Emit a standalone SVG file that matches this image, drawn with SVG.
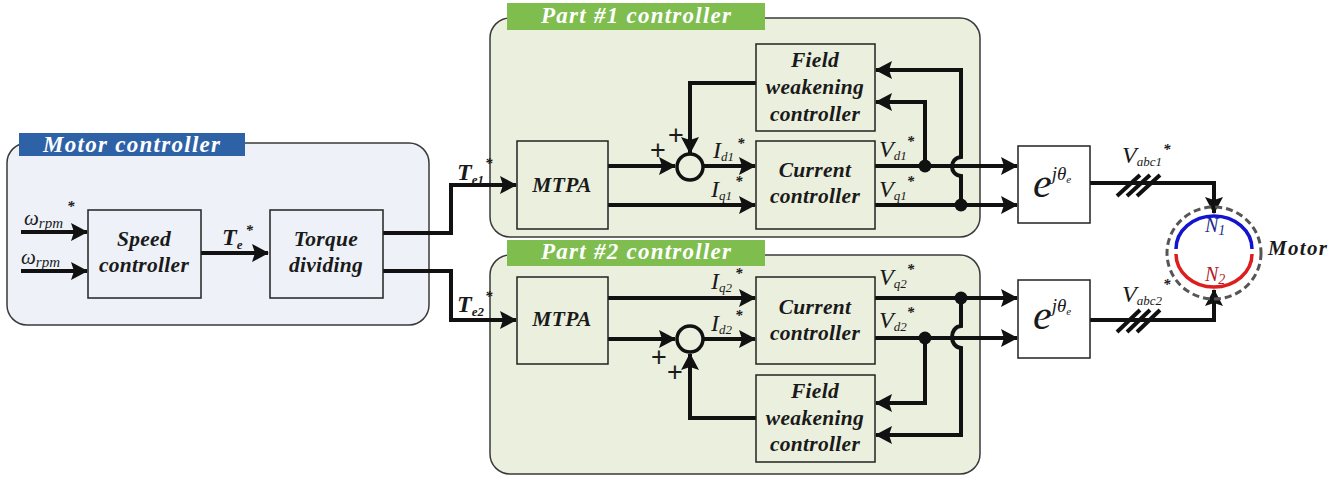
<svg xmlns="http://www.w3.org/2000/svg" width="1341" height="480" viewBox="0 0 1341 480">
<style>
text{font-family:"Liberation Serif","Times New Roman",serif;font-weight:bold;font-style:italic;fill:#1a1a1a}
.box{fill:none;stroke:#222;stroke-width:1.5}
.wbox{fill:#fff;stroke:#222;stroke-width:1.5}
.panelB{fill:#eef2f8;stroke:#3a3a3a;stroke-width:1.5}
.panelG{fill:#ebf0de;stroke:#3a3a3a;stroke-width:1.5}
.hdr{font-size:23px;fill:#fff}
.t{font-size:21.5px;text-anchor:middle;letter-spacing:.3px}
.v{font-size:24px}
.n{font-weight:normal}
.s{font-size:13px}
.st{font-size:15px;font-weight:bold}
.w{fill:none;stroke:#111;stroke-width:4}
.a{marker-end:url(#ah)}
.dot{fill:#111}
.sum{fill:none;stroke:#111;stroke-width:3.5}
.plus{font-size:27px;font-style:normal;font-weight:normal;font-family:"Liberation Sans",Arial,sans-serif}
</style>
<defs>
<marker id="ah" markerUnits="userSpaceOnUse" markerWidth="19" markerHeight="18" refX="16" refY="9" orient="auto">
<path d="M0,0 L17,9 L0,18 L3,9 Z" fill="#111"/>
</marker>
</defs>
<g id="motor-controller">
<rect class="panelB" x="7" y="143" width="422" height="182" rx="20"/>
<rect x="19" y="133" width="226" height="23" fill="#2e62a6"/>
<text class="hdr" x="43" y="152" textLength="177" lengthAdjust="spacing">Motor controller</text>
</g>
<g id="part1-panel">
<rect class="panelG" x="490" y="18" width="490" height="219" rx="20"/>
<rect x="507" y="3" width="258" height="27" fill="#7ebd4e"/>
<text class="hdr" x="541" y="23" textLength="190" lengthAdjust="spacing">Part #1 controller</text>
</g>
<g id="part2-panel">
<rect class="panelG" x="490" y="255" width="490" height="219" rx="20"/>
<rect x="507" y="240" width="258" height="26" fill="#7ebd4e"/>
<text class="hdr" x="541" y="259" textLength="190" lengthAdjust="spacing">Part #2 controller</text>
</g>
<g id="connectors">
<path class="w a" d="M21,232 H87"/>
<path class="w a" d="M21,271 H87"/>
<path class="w a" d="M201,253 H268"/>
<path class="w a" d="M383,233 H451 V185 H516"/>
<path class="w a" d="M383,271 H451 V320 H516"/>
<path class="w a" d="M608,166 H675"/>
<path class="w a" d="M703,166 H755"/>
<path class="w a" d="M608,205 H755"/>
<path class="w a" d="M756,83 H690 V153"/>
<path class="w a" d="M875,166 H1017"/>
<path class="w a" d="M875,205 H1017"/>
<path class="w a" d="M925,166 V102 H876"/>
<path class="w a" d="M961,205 V176 C949,175 949,158 961,157 V70 H876"/>
<path class="w a" d="M608,298 H755"/>
<path class="w a" d="M608,339 H675"/>
<path class="w a" d="M703,339 H755"/>
<path class="w a" d="M756,418 H690 V354"/>
<path class="w a" d="M875,298 H1017"/>
<path class="w a" d="M875,338 H1017"/>
<path class="w a" d="M925,338 V403 H876"/>
<path class="w a" d="M961,298 V326 C949,327 949,347 961,348 V435 H876"/>
<path class="w a" d="M1090,183 H1214 V213"/>
<path class="w a" d="M1090,320 H1214 V290"/>
<path class="w" d="M1117,196 L1140,175 M1127,196 L1150,175 M1137,196 L1160,175"/>
<path class="w" d="M1117,332 L1140,310 M1127,332 L1150,310 M1137,332 L1160,310"/>
<circle class="dot" cx="925" cy="166" r="6.5"/>
<circle class="dot" cx="961" cy="205" r="6.5"/>
<circle class="dot" cx="961" cy="298" r="6.5"/>
<circle class="dot" cx="925" cy="338" r="6.5"/>
</g>
<g id="speed-controller">
<rect class="box" x="88" y="210" width="113" height="88"/>
<text class="t" x="144" y="246">Speed</text>
<text class="t" x="144" y="272">controller</text>
</g>
<g id="torque-dividing">
<rect class="box" x="270" y="210" width="113" height="88"/>
<text class="t" x="326" y="246">Torque</text>
<text class="t" x="326" y="272">dividing</text>
</g>
<g id="mtpa1">
<rect class="box" x="517" y="141" width="91" height="88"/>
<text class="t" x="562" y="192" letter-spacing="1">MTPA</text>
</g>
<g id="mtpa2">
<rect class="box" x="517" y="277" width="91" height="87"/>
<text class="t" x="562" y="326" letter-spacing="1">MTPA</text>
</g>
<g id="field1">
<rect class="box" x="756" y="44" width="119" height="87"/>
<text class="t" x="815" y="67">Field</text>
<text class="t" x="815" y="94">weakening</text>
<text class="t" x="815" y="121">controller</text>
</g>
<g id="current1">
<rect class="box" x="756" y="141" width="119" height="88"/>
<text class="t" x="815" y="177">Current</text>
<text class="t" x="815" y="203">controller</text>
</g>
<g id="current2">
<rect class="box" x="756" y="277" width="119" height="87"/>
<text class="t" x="815" y="314">Current</text>
<text class="t" x="815" y="340">controller</text>
</g>
<g id="field2">
<rect class="box" x="756" y="375" width="119" height="87"/>
<text class="t" x="815" y="398">Field</text>
<text class="t" x="815" y="425">weakening</text>
<text class="t" x="815" y="451">controller</text>
</g>
<g id="sum1">
<circle class="sum" cx="690" cy="167" r="13"/>
<text class="plus" x="650" y="159">+</text>
<text class="plus" x="668" y="144">+</text>
</g>
<g id="sum2">
<circle class="sum" cx="690" cy="339" r="13"/>
<text class="plus" x="651" y="366">+</text>
<text class="plus" x="667" y="381">+</text>
</g>
<g id="dq1">
<rect class="wbox" x="1018" y="146" width="72" height="77"/>
<text x="1033" y="197" font-size="42" fill="#223" class="n" style="font-weight:normal">e<tspan font-size="19" dy="-17">jθ</tspan><tspan font-size="11" dy="3">e</tspan></text>
</g>
<g id="dq2">
<rect class="wbox" x="1018" y="280" width="72" height="78"/>
<text x="1033" y="329" font-size="42" fill="#223" style="font-weight:normal">e<tspan font-size="19" dy="-17">jθ</tspan><tspan font-size="11" dy="3">e</tspan></text>
</g>
<g id="motor">
<ellipse cx="1214" cy="253" rx="47" ry="46" fill="none" stroke="#555" stroke-width="3" stroke-dasharray="7 4"/>
<path d="M1176,249 A38,33 0 0 1 1252,249" fill="none" stroke="#1414d0" stroke-width="3.5"/>
<path d="M1176,254 A38,33 0 0 0 1252,254" fill="none" stroke="#dc1e1e" stroke-width="3.5"/>
<text x="1205" y="232" font-size="20" style="fill:#1a2a8c;font-weight:normal">N<tspan font-size="14" dy="3">1</tspan></text>
<text x="1205" y="281" font-size="20" style="fill:#b01c2a;font-weight:normal">N<tspan font-size="14" dy="3">2</tspan></text>
<text x="1268" y="255" font-size="21" textLength="59" lengthAdjust="spacing">Motor</text>
</g>
<g id="labels">
<text class="n" font-size="21" x="24" y="225" style="font-weight:normal">ω<tspan font-size="15" dy="3">rpm</tspan><tspan class="st" dy="-17" dx="4">*</tspan></text>
<text class="n" font-size="21" x="21" y="264" style="font-weight:normal">ω<tspan font-size="15" dy="3">rpm</tspan></text>
<text class="v" x="222" y="245">T<tspan class="s" dy="4">e</tspan><tspan class="st" dy="-14" dx="3">*</tspan></text>
<text class="v" x="457" y="180">T<tspan class="s" dy="4">e1</tspan><tspan class="st" dy="-16" dx="1">*</tspan></text>
<text class="v" x="457" y="312">T<tspan class="s" dy="4">e2</tspan><tspan class="st" dy="-15" dx="1">*</tspan></text>
<text class="v n" x="713" y="158">I<tspan class="s" dy="3">d1</tspan><tspan class="st" dy="-13" dx="3">*</tspan></text>
<text class="v n" x="711" y="197" >I<tspan class="s" dy="3">q1</tspan><tspan class="st" dy="-14" dx="3">*</tspan></text>
<text class="v n" x="711" y="289">I<tspan class="s" dy="3">q2</tspan><tspan class="st" dy="-14" dx="3">*</tspan></text>
<text class="v n" x="711" y="331">I<tspan class="s" dy="3">d2</tspan><tspan class="st" dy="-14" dx="3">*</tspan></text>
<text class="v n" x="879" y="157">V<tspan class="s" dy="3">d1</tspan><tspan class="st" dy="-14" dx="0">*</tspan></text>
<text class="v n" x="879" y="197">V<tspan class="s" dy="3">q1</tspan><tspan class="st" dy="-14" dx="0">*</tspan></text>
<text class="v n" x="879" y="285">V<tspan class="s" dy="3">q2</tspan><tspan class="st" dy="-14" dx="0">*</tspan></text>
<text class="v n" x="879" y="328">V<tspan class="s" dy="3">d2</tspan><tspan class="st" dy="-14" dx="0">*</tspan></text>
<text class="v n" x="1122" y="163">V<tspan class="s" dy="3">abc1</tspan><tspan class="st" dy="-12" dx="1">*</tspan></text>
<text class="v n" x="1122" y="302">V<tspan class="s" dy="3">abc2</tspan><tspan class="st" dy="-16" dx="1">*</tspan></text>
</g>
</svg>
